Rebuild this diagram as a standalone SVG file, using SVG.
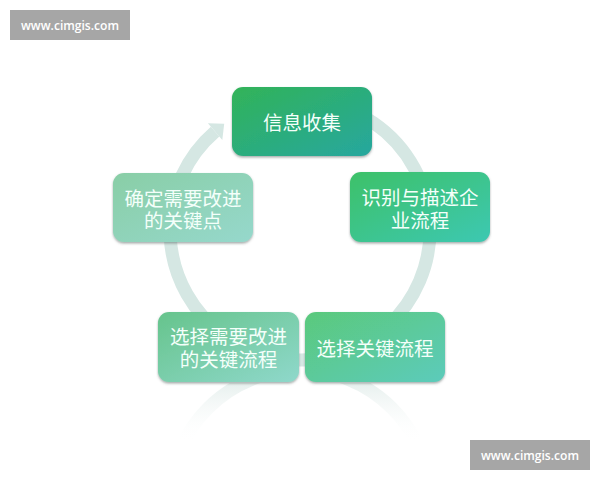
<svg xmlns="http://www.w3.org/2000/svg" width="600" height="480" viewBox="0 0 600 480">
  <style>
    .lbl { font-family: "Noto Sans CJK SC", "Noto Sans", sans-serif; font-size: 19.5px; fill: #f4fffa; text-anchor: middle; dominant-baseline: central; }
    .wm { font-family: "Open Sans", "Liberation Sans", sans-serif; font-size: 12.5px; font-weight: 600; fill: #ffffff; text-anchor: middle; }
    .wmbox { fill: #a6a6a6; }
    .ring { fill: none; stroke: #d5e7e3; stroke-width: 13; }
    .box { filter: url(#sh); }
  </style>
  <defs>
    <filter id="sh" x="-10%" y="-10%" width="120%" height="130%">
      <feDropShadow dx="0" dy="1.5" stdDeviation="1.2" flood-color="#4a5a55" flood-opacity="0.5"/>
    </filter>
    <linearGradient id="g1" x1="0" y1="0" x2="1" y2="1">
      <stop offset="0" stop-color="#31b358"/>
      <stop offset="1" stop-color="#27a79f"/>
    </linearGradient>
    <linearGradient id="g2" x1="0" y1="0" x2="1" y2="1">
      <stop offset="0" stop-color="#3cc168"/>
      <stop offset="1" stop-color="#3cc8b2"/>
    </linearGradient>
    <linearGradient id="g3" x1="0" y1="0" x2="1" y2="1">
      <stop offset="0" stop-color="#5ac97c"/>
      <stop offset="1" stop-color="#5ccbbb"/>
    </linearGradient>
    <linearGradient id="g4" x1="0" y1="0" x2="1" y2="1">
      <stop offset="0" stop-color="#66c48c"/>
      <stop offset="1" stop-color="#8fd8cb"/>
    </linearGradient>
    <linearGradient id="g5" x1="0" y1="0" x2="1" y2="1">
      <stop offset="0" stop-color="#89cea6"/>
      <stop offset="1" stop-color="#96d8cc"/>
    </linearGradient>
    <linearGradient id="refl" gradientUnits="userSpaceOnUse" x1="0" y1="383" x2="0" y2="442">
      <stop offset="0" stop-color="#e4eeec" stop-opacity="0.9"/>
      <stop offset="1" stop-color="#ffffff" stop-opacity="0"/>
    </linearGradient>
    <clipPath id="reflclip">
      <rect x="0" y="383" width="600" height="60"/>
    </clipPath>
  </defs>

  <rect width="600" height="480" fill="#ffffff"/>

  <g id="connectors">
    <circle cx="300" cy="500" r="130" fill="none" stroke="url(#refl)" stroke-width="13" clip-path="url(#reflclip)"/>
    <path class="ring" d="M322.6,102 A130,130 0 1 1 215.1,131.6"/>
    <polygon points="207.9,123.3 224.2,123.8 222.3,139.9" fill="#d5e7e3"/>
  </g>

  <g id="node-info">
    <rect class="box" x="232" y="87" width="140" height="69" rx="11" fill="url(#g1)"/>
    <text class="lbl" x="302" y="121.5">信息收集</text>
  </g>

  <g id="node-identify">
    <rect class="box" x="350" y="172" width="140" height="70" rx="11" fill="url(#g2)"/>
    <text class="lbl" x="420" y="196.5">识别与描述企</text>
    <text class="lbl" x="420" y="219.5">业流程</text>
  </g>

  <g id="node-select-key">
    <rect class="box" x="305" y="312" width="140" height="70" rx="11" fill="url(#g3)"/>
    <text class="lbl" x="375" y="347">选择关键流程</text>
  </g>

  <g id="node-select-improve">
    <rect class="box" x="158" y="312" width="141" height="70" rx="11" fill="url(#g4)"/>
    <text class="lbl" x="228.5" y="335.5">选择需要改进</text>
    <text class="lbl" x="228.5" y="358">的关键流程</text>
  </g>

  <g id="node-key-points">
    <rect class="box" x="113" y="173" width="140" height="69" rx="11" fill="url(#g5)"/>
    <text class="lbl" x="183" y="197">确定需要改进</text>
    <text class="lbl" x="183" y="219.5">的关键点</text>
  </g>

  <g id="watermark-top">
    <rect class="wmbox" x="10" y="10" width="120" height="30"/>
    <text class="wm" x="70" y="29.5" textLength="98" lengthAdjust="spacingAndGlyphs">www.cimgis.com</text>
  </g>
  <g id="watermark-bottom">
    <rect class="wmbox" x="470" y="440" width="120" height="30"/>
    <text class="wm" x="530" y="459.5" textLength="98" lengthAdjust="spacingAndGlyphs">www.cimgis.com</text>
  </g>
</svg>
